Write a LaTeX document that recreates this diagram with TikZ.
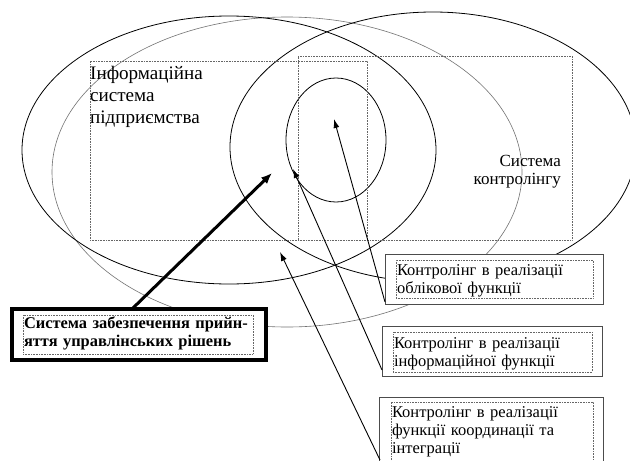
\documentclass[tikz,border=0pt]{standalone}
\usepackage{fontspec}
\setmainfont{Liberation Serif}
\usetikzlibrary{shapes.geometric,arrows.meta}
\begin{document}
\begin{tikzpicture}[x=1pt,y=-1pt,
  ell/.style={ellipse, draw=black, inner sep=0pt, outer sep=0pt, line width=0.8pt},
  gell/.style={ellipse, draw=black!55, inner sep=0pt, outer sep=0pt, line width=0.6pt},
  dotrect/.style={rectangle, draw=black!60, densely dotted, line width=0.6pt, inner sep=0pt, outer sep=0pt, anchor=north west},
  outbox/.style={rectangle, draw=black!70, fill=white, line width=0.9pt, inner sep=0pt, outer sep=0pt, anchor=north west},
  thickbox/.style={rectangle, draw=black, fill=white, line width=4pt, inner sep=0pt, outer sep=0pt, anchor=north west},
  lbl/.style={anchor=base west, inner sep=0pt, outer sep=0pt, align=left, text width=205pt, font=\fontsize{16.5}{18}\selectfont},
  arr/.style={-{Latex[length=9pt,width=6pt]}, line width=0.9pt},
  fatarr/.style={-{Latex[length=11pt,width=9pt]}, line width=3pt}
]
\useasboundingbox (0,0) rectangle (630,461);
\fill[white] (0,0) rectangle (630,461);

% ellipses
\node[gell, minimum width=470pt, minimum height=310pt] (elB) at (287,172) {};
\node[ell, minimum width=414pt, minimum height=268pt] (elA) at (229,150) {};
\node[ell, minimum width=406pt, minimum height=270pt] (elC) at (433,147) {};
\node[ell, minimum width=100pt, minimum height=124pt] (elE) at (336,140) {};

% dotted frames
\node[dotrect, minimum width=277pt, minimum height=179pt] (r1) at (90,61) {};
\node[dotrect, minimum width=274pt, minimum height=184pt] (r2) at (298,56) {};

\node[anchor=base west, inner sep=0pt, align=left, text width=180pt,
      font=\fontsize{19.1}{22}\selectfont] (l1) at (90,79) {Інформаційна\\система\\підприємства};
\node[anchor=base east, inner sep=0pt, align=right, text width=120pt,
      font=\fontsize{17}{18}\selectfont] (l2) at (561,166) {Система\\контролінгу};

% boxes
\node[outbox, minimum width=218pt, minimum height=50pt] (b1) at (385,254) {};
\node[dotrect, minimum width=197pt, minimum height=38pt] (b1i) at (396,260) {};
\node[lbl] (b1t) at (397,275) {Контролінг в реалізації\\облікової функції};

\node[outbox, minimum width=220pt, minimum height=50pt] (b2) at (382,326) {};
\node[dotrect, minimum width=199pt, minimum height=40pt] (b2i) at (393,332) {};
\node[lbl] (b2t) at (394,348) {Контролінг в реалізації\\інформаційної функції};

\node[outbox, minimum width=224pt, minimum height=80pt] (b3) at (379,397) {};
\node[dotrect, minimum width=202pt, minimum height=70pt] (b3i) at (391,402) {};
\node[lbl] (b3t) at (392,417) {Контролінг в реалізації\\функції координації та\\інтеграції};

\node[thickbox, minimum width=254pt, minimum height=51pt] (b0) at (12,309) {};
\node[dotrect, minimum width=230pt, minimum height=39pt] (b0i) at (23,315) {};
\node[lbl, text width=232pt, font=\fontsize{16.4}{18.5}\selectfont\bfseries] (b0t) at (24,328)
  {\makebox[222pt][s]{Система забезпечення прийн-}\\яття управлінських рішень};

% arrow ends
\coordinate (t0) at (272,173);
\coordinate (t1) at (334,119);
\coordinate (t2) at (293,169);
\coordinate (t3) at (280,252);
\coordinate (s0) at (133,308);
\coordinate (s3) at (380,460);

\draw[arr] ([yshift=2pt]b1.south west) -- (t1);
\draw[arr] ([yshift=6pt]b2.south west) -- (t2);
\draw[arr] (s3) -- (t3);
\draw[fatarr] (s0) -- (t0);
\end{tikzpicture}
\end{document}
